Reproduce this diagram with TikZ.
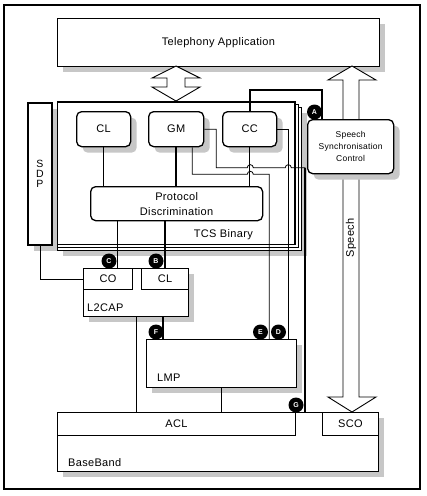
\documentclass[tikz,border=0pt]{standalone}
\usepackage{fontspec}
\setmainfont{Liberation Sans}[LetterSpace=3]
\usetikzlibrary{shadows,calc}
\tikzset{
  box/.style       ={rectangle,draw,fill=white,line width=0.9pt,inner sep=0pt,anchor=north west},
  shadowed/.style  ={drop shadow={opacity=1,fill=black!22,shadow xshift=6pt,shadow yshift=-6pt}},
  module/.style    ={box,rounded corners=5pt,line width=1.3pt},
  tag/.style       ={inner sep=0pt},
  marker/.style    ={circle,fill=black,text=white,inner sep=0pt,minimum size=15pt,
                     font=\bfseries\fontsize{7}{7}\selectfont},
  wire/.style      ={line width=0.8pt},
  bus/.style       ={line width=1.8pt},
  blockarrow/.style={draw,fill=white,line width=0.9pt,line join=miter}
}
\begin{document}
\begin{tikzpicture}[x=1pt,y=-1pt,font=\fontsize{11}{13}\selectfont]
  \fill[white] (0,0) rectangle (427,496);
  \useasboundingbox (0,0) rectangle (427,496);
  \draw[line width=1.6pt] (4,5) rectangle (420,489);

  % Application and block arrows
  \node (tel) [box,shadowed,minimum width=322pt,minimum height=48pt] at (57,18) {Telephony Application};
  \draw[blockarrow] (352,66) -- (376,80) -- (359,80) -- (359,397) -- (376,397) -- (352,412)
    -- (328,397) -- (343,397) -- (343,80) -- (328,80) -- cycle;
  \node (speechlabel) [tag,rotate=90] at (351,238) {Speech};
  \draw[blockarrow] (176,66) -- (200,78) -- (185,78) -- (185,87) -- (200,87) -- (176,101)
    -- (152,87) -- (167,87) -- (167,78) -- (152,78) -- cycle;

  % TCS layer
  \node (sdp) [box,shadowed,line width=1.8pt,minimum width=24pt,minimum height=142pt,
               align=center,font=\fontsize{10.5}{10}\selectfont] at (27,102) {S\\D\\P};
  \node (tcsback) [box,shadowed,minimum width=244pt,minimum height=143pt] at (57,107) {};
  \node (tcsmid)  [box,minimum width=241pt,minimum height=143pt] at (57,104) {};
  \node (tcs)     [box,minimum width=237pt,minimum height=142pt] at (57,102) {};
  \draw[bus] (tcs.north west) -- (tcs.north east) -- (tcs.south east);
  \node (tcslabel) [tag,anchor=base east] at (253,237) {TCS Binary};
  \node (cl) [module,shadowed,minimum width=54pt,minimum height=35pt] at (76,111) {CL};
  \node (gm) [module,shadowed,minimum width=55pt,minimum height=35pt] at (148,111) {GM};
  \node (cc) [module,shadowed,minimum width=54pt,minimum height=35pt] at (222,111) {CC};
  \node (pd) [module,minimum width=172pt,minimum height=34pt,align=center,
              font=\fontsize{11}{15}\selectfont] at (90,186) {Protocol\\Discrimination};
  \node (ssc) [module,shadowed,minimum width=86pt,minimum height=54pt,align=center,
               font=\fontsize{8.5}{12}\selectfont] at (307,119) {Speech\\Synchronisation\\Control};

  % Lower layers
  \node (l2cap) [box,shadowed,minimum width=105pt,minimum height=48pt] at (83,268) {};
  \node (co)    [box,minimum width=49pt,minimum height=21pt] at (83,268) {CO};
  \node (l2cl)  [box,minimum width=47pt,minimum height=21pt] at (141,268) {CL};
  \node (l2caplabel) [tag,anchor=base west] at (87,311) {L2CAP};
  \node (lmp) [box,shadowed,minimum width=150pt,minimum height=48pt] at (146,339) {};
  \node (lmplabel) [tag,anchor=base west] at (157,381) {LMP};
  \node (bb)  [box,shadowed,minimum width=321pt,minimum height=59pt] at (57,412) {};
  \node (acl) [box,minimum width=238pt,minimum height=23pt] at (57,412) {ACL};
  \node (sco) [box,minimum width=56pt,minimum height=23pt] at (322,412) {SCO};
  \node (bblabel) [tag,anchor=base west] at (68,466) {BaseBand};

  % Wires
  \draw[wire] (cl.south) -- (cl.south |- pd.north);
  \draw[bus]  (gm.south) -- (gm.south |- pd.north);
  \draw[wire] (cc.south) -- (cc.south |- pd.north);
  \draw[bus]  (cc.north) -- ++(0,-21) -| ($(ssc.north west)+(15,0)$);
  \draw[wire] ($(gm.south east)+(-12,0)$) -- ++(0,27) -- ++(55,0)
    arc[start angle=180,end angle=0,radius=3pt] -- ++(16,0) coordinate (eturn)
    -- (eturn |- lmp.north);
  \draw[wire] (cc.east) -- ++(11,0) coordinate (dturn) -- (dturn |- lmp.north);
  \draw[wire] (gm.east) -- ++(12,0) -- ++(0,38.5) -- ++(31,0)
    arc[start angle=180,end angle=0,radius=3pt] -- ++(32,0)
    arc[start angle=180,end angle=0,radius=3pt] -- ++(14,0) coordinate (gturn);
  \draw[bus]  (gturn) -- (gturn |- bb.north);
  \draw[wire] ($(pd.south west)+(27,0)$) coordinate (cdrop) -- (cdrop |- co.north);
  \draw[bus]  (l2cl.north |- pd.south) -- (l2cl.north);
  \draw[wire] (sdp.south) |- (co.west);
  \draw[bus]  ($(l2cap.south west)+(80,0)$) coordinate (fdrop) -- (fdrop |- lmp.north);
  \draw[wire] ($(l2cap.south west)+(53,0)$) coordinate (adrop) -- (adrop |- acl.north);
  \draw[wire] (lmp.south) -- (lmp.south |- acl.north);

  % Markers
  \node (markA) [marker] at (314.5,112) {A};
  \node (markB) [marker] at (156,261) {B};
  \node (markC) [marker] at (109,261) {C};
  \node (markD) [marker] at (278.5,332) {D};
  \node (markE) [marker] at (260.5,332) {E};
  \node (markF) [marker] at (156,332) {F};
  \node (markG) [marker] at (296,405) {G};
\end{tikzpicture}
\end{document}
